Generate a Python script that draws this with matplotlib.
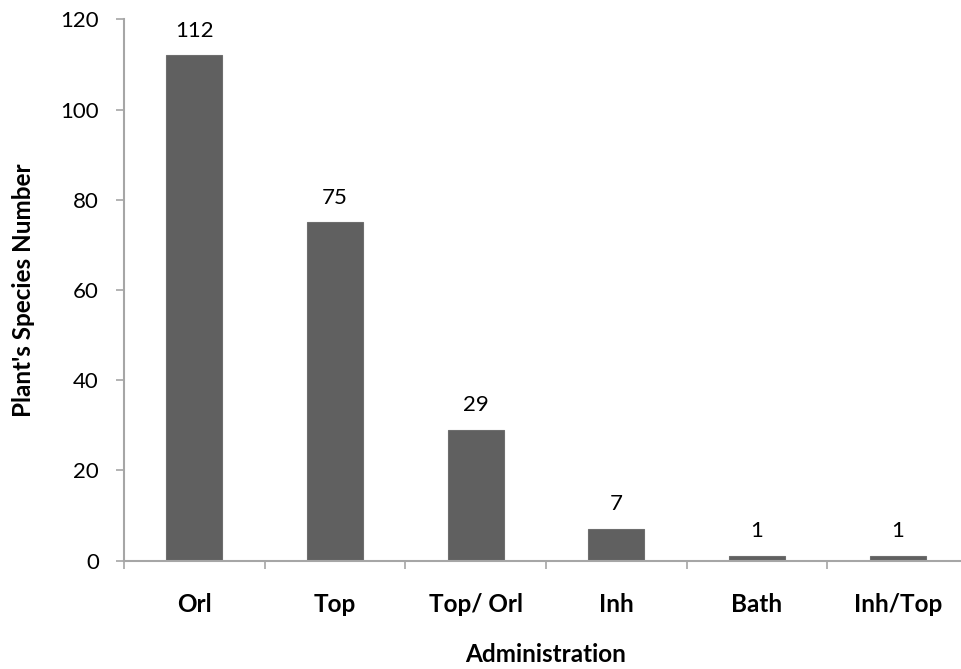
import matplotlib
matplotlib.use("Agg")
import matplotlib.pyplot as plt
import numpy as np

plt.rcParams['font.family'] = ['Lato', 'DejaVu Sans']

# species count per administration route
routes = ["Orl", "Top", "Top/ Orl", "Inh", "Bath", "Inh/Top"]
counts = [112, 75, 29, 7, 1, 1]

bar_color = "#606060"
axis_color = "#a6a6a6"
num_fs = 16
lab_fs = 17.5

fig = plt.figure(figsize=(9.61, 6.69), dpi=100)
ax = fig.add_axes([124 / 961, 1 - 560.7 / 669, 844 / 961, 541.4 / 669])

x = np.arange(len(routes))
ax.bar(x, counts, width=0.4, color=bar_color, edgecolor="#6e6e6e", linewidth=0.8, zorder=2)

for xi, v in zip(x, counts):
    ax.annotate(str(v), (xi, v), xytext=(0, 13.5), textcoords="offset points",
                ha="center", va="baseline", fontsize=num_fs)

ax.set_xlim(-0.5, len(routes) - 0.5)
ax.set_ylim(0, 120)
ax.set_yticks(range(0, 121, 20))
ax.tick_params(axis="y", labelsize=num_fs, length=6, width=1.2, color=axis_color, pad=12)

# category labels centred, tick marks between categories
ax.set_xticks(x)
ax.set_xticklabels(routes, fontsize=lab_fs, fontweight="bold")
ax.tick_params(axis="x", which="major", length=0, pad=23)
ax.set_xticks(np.arange(len(routes)) - 0.5, minor=True)
ax.tick_params(axis="x", which="minor", length=6, width=1.2, color=axis_color)

for side in ("top", "right"):
    ax.spines[side].set_visible(False)
for side in ("left", "bottom"):
    ax.spines[side].set_color(axis_color)
    ax.spines[side].set_linewidth(1.5)

ax.set_xlabel("Administration", fontsize=lab_fs, fontweight="bold", va="center")
ax.xaxis.set_label_coords(0.5, -0.174)
ax.set_ylabel("Plant's Species Number", fontsize=lab_fs, fontweight="bold", va="center")
ax.yaxis.set_label_coords(-0.1185, 0.5)

fig.savefig("out.png", dpi=100)
